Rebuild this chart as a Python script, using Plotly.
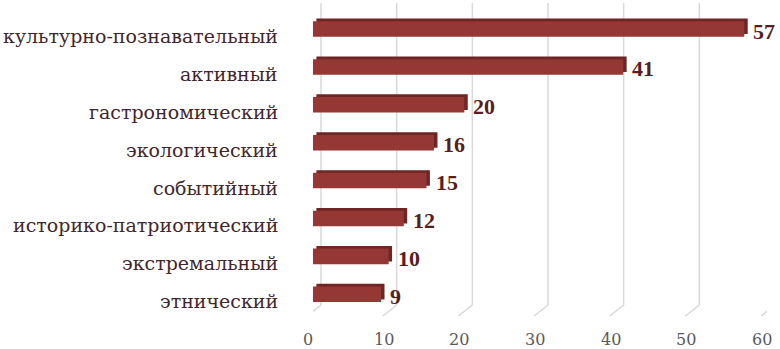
import plotly.graph_objects as go

# Types of tourism and their counts (top to bottom)
categories = [
    "культурно-познавательный",
    "активный",
    "гастрономический",
    "экологический",
    "событийный",
    "историко-патриотический",
    "экстремальный",
    "этнический",
]
values = [57, 41, 20, 16, 15, 12, 10, 9]
x_ticks = [0, 10, 20, 30, 40, 50, 60]

FRONT = "#953735"
SIDE = "#6e2523"
SERIF = "Liberation Serif"
TEXT_SERIF = "DejaVu Serif"

fig = go.Figure()

# depth faces: same bars nudged right/up, drawn behind the front faces
fig.add_trace(go.Bar(
    y=categories, x=values, base=0.45, orientation="h",
    width=0.41, offset=-0.275,
    marker=dict(color=SIDE, line=dict(width=0)),
    hoverinfo="skip", showlegend=False,
))
# front faces
fig.add_trace(go.Bar(
    y=categories, x=values, orientation="h",
    width=0.41, offset=-0.205,
    marker=dict(color=FRONT, line=dict(width=0)),
    showlegend=False,
))

# value labels next to each bar
for c, v in zip(categories, values):
    fig.add_annotation(
        x=v, y=c, xref="x", yref="y", text=str(v), showarrow=False,
        xanchor="left", xshift=7, yshift=-2,
        font=dict(family=SERIF, size=22, color="#5a1d1d", weight="bold"),
    )

# category labels, set on the front plane (slightly lower than the bars)
for c in categories:
    fig.add_annotation(
        x=0, y=c, xref="paper", yref="y", text=c, showarrow=False,
        xanchor="right", xshift=-33, yshift=-7,
        font=dict(family=TEXT_SERIF, size=19, color="#43262a"),
    )

# x tick labels along the front edge of the floor
for t in x_ticks:
    fig.add_annotation(
        x=t, y=0, xref="x", yref="paper", text=str(t), showarrow=False,
        xanchor="center", yanchor="top", xshift=-5, yshift=-12,
        font=dict(family=TEXT_SERIF, size=16, color="#595959"),
    )

# 3D-style gridlines: back wall line plus a floor segment to the front
for t in x_ticks:
    fig.add_shape(type="line", xref="x", yref="paper", xsizemode="pixel", xanchor=t,
                  x0=8, x1=8, y0=0.035, y1=1.0,
                  line=dict(color="#d9d9d9", width=1.5), layer="below")
    fig.add_shape(type="line", xref="x", yref="paper", xsizemode="pixel", xanchor=t,
                  x0=8, x1=-6, y0=0.035, y1=0.0,
                  line=dict(color="#d9d9d9", width=1.5), layer="below")

fig.update_layout(
    width=780, height=349,
    margin=dict(l=313, r=13, t=3, b=33),
    paper_bgcolor="white", plot_bgcolor="white",
    font=dict(family=SERIF),
    barmode="overlay",
    xaxis=dict(
        range=[0, 60], tickvals=x_ticks, showgrid=False, zeroline=False,
        showline=False, ticks="", showticklabels=False,
    ),
    yaxis=dict(
        type="category", categoryorder="array", categoryarray=categories,
        range=[7.573, -0.686], showgrid=False, zeroline=False, showline=False,
        ticks="", showticklabels=False,
    ),
)

fig.write_html("out.html")
